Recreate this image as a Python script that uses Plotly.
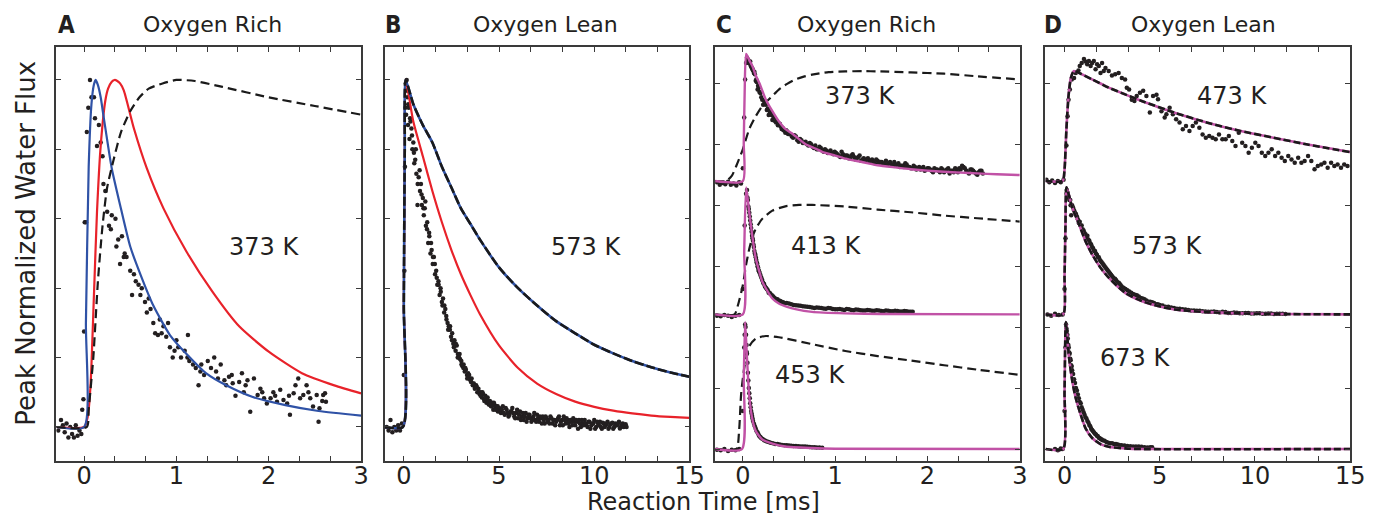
import plotly.graph_objects as go

W, H = 1378, 517

# ---------------- Panel A : Oxygen Rich, 373 K ----------------
a_data_t = [-0.28, -0.25, -0.23, -0.21, -0.19, -0.17, -0.15, -0.13, -0.11, -0.09, -0.07, -0.05, -0.03, -0.02, -0.007,
            0.0, 0.007, 0.02, 0.03, 0.046, 0.064, 0.08, 0.107, 0.118, 0.14, 0.16, 0.18, 0.2, 0.21, 0.23, 0.25, 0.27,
            0.29, 0.30, 0.34, 0.35, 0.37, 0.39, 0.41, 0.43, 0.44, 0.46, 0.5, 0.52, 0.54, 0.56, 0.59, 0.61, 0.625,
            0.66, 0.68, 0.70, 0.72, 0.75, 0.77, 0.80, 0.82, 0.84, 0.86, 0.89, 0.91, 0.93, 0.96, 0.98, 1.0, 1.02,
            1.05, 1.09, 1.12, 1.125, 1.14, 1.18, 1.21, 1.24, 1.26, 1.27, 1.30, 1.34, 1.375, 1.41, 1.43, 1.45, 1.48,
            1.52, 1.54, 1.57, 1.6, 1.61, 1.64, 1.68, 1.71, 1.73, 1.75, 1.77, 1.80, 1.84, 1.88, 1.91, 1.93, 1.95,
            1.98, 2.02, 2.05, 2.07, 2.09, 2.125, 2.16, 2.2, 2.22, 2.23, 2.27, 2.29, 2.32, 2.34, 2.375, 2.41, 2.43,
            2.45, 2.48, 2.52, 2.54, 2.55, 2.58, 2.59, 2.61, 2.62]
a_data_flux = [-0.01, 0.02, 0.005, -0.015, 0.01, -0.03, 0.0, -0.02, -0.03, 0.005, -0.025, -0.01, -0.02, 0.05, 0.08,
               0.275, 0.59, 0.59, 0.85, 0.92, 1.0, 0.95, 0.95, 0.89, 0.81, 0.87, 0.82, 0.78, 0.70, 0.68, 0.62, 0.58,
               0.57, 0.61, 0.60, 0.52, 0.54, 0.47, 0.55, 0.49, 0.50, 0.49, 0.45, 0.38, 0.44, 0.42, 0.41, 0.38, 0.40,
               0.36, 0.33, 0.37, 0.34, 0.30, 0.27, 0.265, 0.31, 0.27, 0.29, 0.26, 0.30, 0.23, 0.20, 0.22, 0.25, 0.23,
               0.20, 0.22, 0.20, 0.265, 0.19, 0.18, 0.17, 0.12, 0.16, 0.18, 0.15, 0.19, 0.17, 0.20, 0.16, 0.14, 0.18,
               0.135, 0.12, 0.145, 0.15, 0.126, 0.09, 0.13, 0.155, 0.10, 0.12, 0.135, 0.044, 0.14, 0.092, 0.11, 0.10, 0.083,
               0.068, 0.083, 0.10, 0.09, 0.073, 0.107, 0.078, 0.068, 0.09, 0.035, 0.097, 0.12, 0.14, 0.083, 0.092, 0.12, 0.10,
               0.083, 0.059, 0.092, 0.015, 0.054, 0.075, 0.092, 0.097, 0.073]
a_blue_t = [-0.3, 0.0, 0.02, 0.05, 0.08, 0.105, 0.125, 0.15, 0.18, 0.214, 0.30, 0.39, 0.5, 0.61, 0.75, 0.93, 1.11,
            1.32, 1.54, 1.82, 2.18, 2.54, 3.0]
a_blue_flux = [0, 0, 0.3, 0.75, 0.93, 0.985, 1.0, 0.985, 0.95, 0.89, 0.745, 0.64, 0.52, 0.44, 0.35, 0.265, 0.21,
               0.155, 0.12, 0.087, 0.063, 0.046, 0.033]
a_red_t = [-0.3, 0.0, 0.04, 0.07, 0.107, 0.14, 0.18, 0.23, 0.26, 0.30, 0.33, 0.36, 0.39, 0.43, 0.54, 0.68, 0.86,
           1.11, 1.39, 1.68, 2.0, 2.36, 2.71, 3.0]
a_red_flux = [0, 0, 0.03, 0.12, 0.38, 0.62, 0.81, 0.94, 0.975, 0.995, 1.0, 0.997, 0.99, 0.97, 0.86, 0.745, 0.63,
              0.505, 0.39, 0.29, 0.217, 0.155, 0.12, 0.097]
a_dash_t = [-0.3, 0.03, 0.05, 0.1, 0.15, 0.2, 0.25, 0.32, 0.4, 0.5, 0.6, 0.7, 0.85, 1.0, 1.2, 1.5, 2.0, 2.5, 3.0]
a_dash_flux = [0, 0, 0.05, 0.2, 0.42, 0.58, 0.69, 0.77, 0.85, 0.91, 0.95, 0.975, 0.99, 1.0, 0.997, 0.98, 0.95, 0.925, 0.9]

# ---------------- Panel B : Oxygen Lean, 573 K ----------------
b_data_t = [-0.9, -0.8, -0.7, -0.6, -0.5, -0.4, -0.3, -0.2, -0.1, 0.0, 0.03, 0.06, 0.08, 0.1, 0.12, 0.15, 0.18, 0.2,
            0.22, 0.26, 0.3, 0.35, 0.4, 0.45, 0.5, 0.55, 0.6, 0.66, 0.72, 0.78, 0.85, 0.9, 0.95, 1.0, 1.05, 1.1, 1.16,
            1.22, 1.28, 1.34, 1.4, 1.46, 1.52, 1.58, 1.64, 1.7, 1.76, 1.82, 1.88, 1.94, 2.0, 2.06, 2.12, 2.18, 2.24,
            2.3, 2.36, 2.42, 2.48, 2.54, 2.6, 2.66, 2.72, 2.78, 2.84, 2.9, 2.96, 3.02, 3.08, 3.14, 3.2, 3.26, 3.32,
            3.38, 3.44, 3.5, 3.56, 3.62, 3.68, 3.74, 3.8, 3.86, 3.92, 3.98, 4.04, 4.1, 4.16, 4.22, 4.28, 4.34, 4.4,
            4.46, 4.52, 4.58, 4.64, 4.7, 4.76, 4.82, 4.88, 4.94, 5.0, 5.1, 5.2, 5.3, 5.4, 5.5, 5.6, 5.7, 5.8, 5.9,
            6.0, 6.1, 6.2, 6.3, 6.4, 6.5, 6.6, 6.7, 6.8, 6.9, 7.0, 7.1, 7.2, 7.3, 7.4, 7.5, 7.6, 7.7, 7.8, 7.9, 8.0,
            8.1, 8.2, 8.3, 8.4, 8.5, 8.6, 8.7, 8.8, 8.9, 9.0, 9.1, 9.2, 9.3, 9.4, 9.5, 9.6, 9.7, 9.8, 9.9, 10.0, 10.1,
            10.2, 10.3, 10.4, 10.5, 10.6, 10.7, 10.8, 10.9, 11.0, 11.1, 11.2, 11.3, 11.4, 11.5, 11.6, 11.7]
b_data_flux = [0.0, -0.01, 0.02, -0.015, 0.0, -0.01, 0.005, -0.01, 0.01, 0.15, 0.45, 0.75, 0.92, 0.99, 0.9, 1.0, 0.95,
               0.97, 0.87, 0.92, 0.83, 0.88, 0.86, 0.80, 0.82, 0.76, 0.77, 0.73, 0.64, 0.72, 0.68, 0.70, 0.64, 0.66,
               0.61, 0.63, 0.58, 0.57, 0.53, 0.55, 0.50, 0.51, 0.47, 0.49, 0.44, 0.45, 0.41, 0.42, 0.38, 0.39, 0.36,
               0.37, 0.33, 0.34, 0.31, 0.30, 0.29, 0.28, 0.26, 0.27, 0.24, 0.25, 0.22, 0.235, 0.21, 0.20, 0.195, 0.19,
               0.175, 0.18, 0.16, 0.165, 0.15, 0.155, 0.14, 0.135, 0.14, 0.12, 0.125, 0.115, 0.12, 0.10, 0.11, 0.095,
               0.10, 0.085, 0.095, 0.08, 0.09, 0.07, 0.085, 0.065, 0.075, 0.06, 0.07, 0.05, 0.065, 0.055, 0.06, 0.045,
               0.055, 0.04, 0.06, 0.035, 0.05, 0.03, 0.045, 0.055, 0.03, 0.04, 0.025, 0.045, 0.03, 0.02, 0.04, 0.025,
               0.035, 0.015, 0.03, 0.02, 0.035, 0.015, 0.025, 0.03, 0.01, 0.025, 0.02, 0.03, 0.01, 0.02, 0.015, 0.025,
               0.005, 0.02, 0.03, 0.01, 0.02, 0.0, 0.015, 0.025, 0.005, 0.015, 0.02, 0.0, 0.01, 0.02, 0.005, 0.015,
               -0.005, 0.01, 0.02, 0.0, 0.01, 0.015, -0.005, 0.01, 0.005, 0.015, 0.0, 0.01, -0.005, 0.01, 0.005, 0.015,
               0.0, 0.01, 0.005, 0.0]
# second sweep of the same measurement (time, flux) pairs
b_data2 = [(0.13, 0.97), (0.23, 0.93), (0.33, 0.89), (0.43, 0.84), (0.53, 0.79), (0.63, 0.80), (0.73, 0.70),
           (0.83, 0.74), (0.93, 0.67), (1.03, 0.63), (1.13, 0.65), (1.23, 0.59), (1.33, 0.56), (1.43, 0.53),
           (1.53, 0.49), (1.63, 0.47), (1.73, 0.43), (1.83, 0.41), (1.93, 0.40), (2.03, 0.35), (2.13, 0.35),
           (2.23, 0.32), (2.33, 0.28), (2.43, 0.29), (2.53, 0.25), (2.63, 0.23), (2.73, 0.24), (2.83, 0.20),
           (2.93, 0.21), (3.03, 0.18), (3.13, 0.17), (3.23, 0.17), (3.33, 0.14), (3.43, 0.15), (3.53, 0.13),
           (3.63, 0.125), (3.73, 0.11), (3.83, 0.115), (3.93, 0.10), (4.03, 0.09), (4.13, 0.10), (4.23, 0.075),
           (4.33, 0.08), (4.43, 0.075), (4.53, 0.065), (4.63, 0.06), (4.73, 0.07), (4.83, 0.05), (4.93, 0.06),
           (5.05, 0.045), (5.15, 0.05), (5.25, 0.04), (5.35, 0.055), (5.45, 0.04), (5.55, 0.035), (5.65, 0.045),
           (5.75, 0.04), (5.85, 0.025), (5.95, 0.05), (6.05, 0.035), (6.15, 0.02), (6.25, 0.04), (6.35, 0.03),
           (6.45, 0.015), (6.55, 0.035), (6.65, 0.025), (6.75, 0.02), (6.85, 0.04), (6.95, 0.015), (7.05, 0.025),
           (7.15, 0.03), (7.25, 0.01), (7.35, 0.02), (7.45, 0.03), (7.55, 0.015), (7.65, 0.01), (7.75, 0.025),
           (7.85, 0.02), (7.95, 0.005), (8.05, 0.02), (8.15, 0.03), (8.25, 0.015), (8.35, 0.005), (8.45, 0.02),
           (8.55, 0.025), (8.65, 0.01), (8.75, 0.02), (8.85, 0.005), (8.95, 0.015), (9.05, 0.02), (9.15, -0.005),
           (9.25, 0.01), (9.35, 0.02), (9.45, 0.005), (9.55, 0.01), (9.65, 0.0), (9.75, 0.015), (9.85, 0.005),
           (9.95, 0.01), (10.05, -0.005), (10.15, 0.015), (10.25, 0.005), (10.35, 0.0), (10.45, 0.012),
           (10.55, 0.0), (10.65, 0.01), (10.75, -0.005), (10.85, 0.008), (10.95, 0.012), (11.05, 0.0),
           (11.15, 0.005), (11.25, 0.01), (11.35, -0.004), (11.45, 0.006), (11.55, 0.0), (11.65, 0.008)]
b_blue_t = [-1, -0.05, 0.0, 0.05, 0.1, 0.5, 1.0, 1.5, 2.0, 2.5, 3.0, 3.5, 4.0, 5.0, 6.0, 7.0, 8.0, 9.0, 10.0, 11.0, 12.0, 13.0, 14.0, 15.0]
b_blue_flux = [0, 0, 0.35, 0.8, 1.0, 0.93, 0.87, 0.82, 0.75, 0.69, 0.63, 0.585, 0.54, 0.46, 0.40, 0.35, 0.305, 0.27, 0.237, 0.212, 0.19, 0.172, 0.157, 0.145]
b_red_t = [-1, -0.05, 0.0, 0.05, 0.1, 0.5, 1.0, 1.5, 2.0, 2.5, 3.0, 3.5, 4.0, 5.0, 6.0, 7.0, 8.0, 9.0, 10.0, 11.0, 12.0, 13.0, 14.0, 15.0]
b_red_flux = [0, 0, 0.35, 0.8, 1.0, 0.88, 0.78, 0.68, 0.59, 0.51, 0.44, 0.38, 0.325, 0.235, 0.17, 0.125, 0.095, 0.073, 0.058, 0.047, 0.039, 0.033, 0.029, 0.026]

# ---------------- Panel C : Oxygen Rich, stacked ----------------
c373_data_t = [-0.28, -0.25, -0.22, -0.19, -0.16, -0.13, -0.1, -0.07, -0.04, -0.02, 0.0, 0.015, 0.025, 0.035, 0.05,
               0.06, 0.07, 0.08, 0.09, 0.1, 0.11, 0.12, 0.13, 0.14, 0.15, 0.16, 0.17, 0.18, 0.2, 0.22, 0.24, 0.26,
               0.28, 0.3, 0.32, 0.34, 0.36, 0.38, 0.4, 0.42, 0.44, 0.46, 0.48, 0.5, 0.53, 0.56, 0.59, 0.62, 0.65,
               0.68, 0.71, 0.74, 0.77, 0.8, 0.83, 0.86, 0.89, 0.92, 0.95, 0.98, 1.01, 1.04, 1.07, 1.1, 1.13, 1.16,
               1.19, 1.22, 1.25, 1.28, 1.31, 1.34, 1.37, 1.4, 1.43, 1.46, 1.49, 1.52, 1.55, 1.58, 1.61, 1.64, 1.67,
               1.7, 1.73, 1.76, 1.79, 1.82, 1.85, 1.88, 1.91, 1.94, 1.97, 2.0, 2.03, 2.06, 2.09, 2.12, 2.15, 2.18,
               2.21, 2.24, 2.27, 2.3, 2.33, 2.36, 2.39, 2.42, 2.45, 2.48, 2.51, 2.54, 2.57, 2.6]
c373_data_flux = [-0.01, -0.03, -0.015, -0.025, -0.005, -0.03, -0.02, -0.035, -0.01, -0.02, 0.1, 0.5, 0.8, 0.93, 0.96,
                  0.95, 0.93, 0.94, 0.9, 0.89, 0.87, 0.85, 0.84, 0.79, 0.78, 0.72, 0.73, 0.70, 0.66, 0.60, 0.62, 0.56,
                  0.52, 0.54, 0.48, 0.50, 0.46, 0.44, 0.45, 0.41, 0.40, 0.38, 0.39, 0.37, 0.35, 0.36, 0.32, 0.33, 0.30,
                  0.31, 0.28, 0.29, 0.26, 0.25, 0.27, 0.24, 0.25, 0.22, 0.24, 0.21, 0.22, 0.20, 0.23, 0.19, 0.20, 0.18,
                  0.21, 0.17, 0.19, 0.16, 0.18, 0.17, 0.15, 0.17, 0.14, 0.16, 0.15, 0.13, 0.16, 0.14, 0.12, 0.15, 0.13,
                  0.11, 0.12, 0.14, 0.11, 0.10, 0.12, 0.09, 0.11, 0.10, 0.08, 0.10, 0.09, 0.07, 0.09, 0.08, 0.10, 0.07,
                  0.09, 0.06, 0.08, 0.10, 0.07, 0.09, 0.11, 0.08, 0.06, 0.09, 0.07, 0.05, 0.08, 0.06]
c373_data2 = [(0.045, 0.97), (0.065, 0.93), (0.085, 0.91), (0.105, 0.88), (0.125, 0.86), (0.145, 0.80), (0.165, 0.75),
              (0.19, 0.69), (0.21, 0.64), (0.23, 0.63), (0.25, 0.60), (0.27, 0.57), (0.29, 0.55), (0.31, 0.52),
              (0.33, 0.51), (0.35, 0.47), (0.37, 0.47), (0.39, 0.45), (0.41, 0.43), (0.43, 0.42), (0.45, 0.40),
              (0.47, 0.40), (0.49, 0.37), (0.515, 0.37), (0.545, 0.34), (0.575, 0.35), (0.605, 0.31), (0.635, 0.32),
              (0.665, 0.30), (0.695, 0.29), (0.725, 0.30), (0.755, 0.27), (0.785, 0.28), (0.815, 0.25), (0.845, 0.26),
              (0.875, 0.23), (0.905, 0.24), (0.935, 0.23), (0.965, 0.22), (0.995, 0.23), (1.025, 0.21), (1.055, 0.19),
              (1.085, 0.21), (1.115, 0.20), (1.145, 0.18), (1.175, 0.20), (1.205, 0.19), (1.235, 0.18), (1.265, 0.20),
              (1.295, 0.17), (1.325, 0.16), (1.355, 0.18), (1.385, 0.16), (1.415, 0.15), (1.445, 0.17), (1.475, 0.14),
              (1.505, 0.15), (1.535, 0.14), (1.565, 0.13), (1.595, 0.15), (1.625, 0.13), (1.655, 0.12), (1.685, 0.14),
              (1.715, 0.12), (1.745, 0.11), (1.775, 0.13), (1.805, 0.11), (1.835, 0.10), (1.865, 0.11), (1.895, 0.10),
              (1.925, 0.09), (1.955, 0.11), (1.985, 0.09), (2.015, 0.10), (2.045, 0.08), (2.075, 0.10), (2.105, 0.09),
              (2.135, 0.07), (2.165, 0.09), (2.195, 0.08), (2.225, 0.10), (2.255, 0.08), (2.285, 0.07), (2.315, 0.09),
              (2.345, 0.10), (2.375, 0.12), (2.405, 0.10), (2.435, 0.07), (2.465, 0.09), (2.495, 0.08), (2.525, 0.06),
              (2.555, 0.07), (2.585, 0.08)]
c373_fit_t = [-0.3, 0.0, 0.01, 0.02, 0.036, 0.07, 0.107, 0.14, 0.18, 0.25, 0.32, 0.39, 0.46, 0.54, 0.61, 0.68, 0.77,
              0.86, 1.0, 1.11, 1.3, 1.46, 1.65, 1.82, 2.0, 2.18, 2.36, 2.54, 2.75, 3.0]
c373_fit_flux = [0, 0, 0.3, 0.7, 1.0, 0.95, 0.90, 0.83, 0.77, 0.64, 0.55, 0.47, 0.41, 0.37, 0.33, 0.29, 0.26, 0.23,
                 0.20, 0.176, 0.148, 0.124, 0.107, 0.093, 0.082, 0.073, 0.066, 0.06, 0.053, 0.047]
c373_dash_t = [-0.3, -0.18, -0.12, -0.07, 0.0, 0.07, 0.14, 0.21, 0.30, 0.39, 0.48, 0.57, 0.66, 0.75, 0.93, 1.11, 1.3,
               1.46, 1.82, 2.18, 2.54, 3.0]
c373_dash_flux = [0, 0, 0.04, 0.12, 0.25, 0.41, 0.51, 0.59, 0.655, 0.72, 0.765, 0.80, 0.822, 0.837, 0.857, 0.863,
                  0.865, 0.863, 0.855, 0.845, 0.824, 0.80]

c413_data_t = [-0.28, -0.24, -0.2, -0.16, -0.12, -0.08, -0.04, 0.0, 0.02, 0.035, 0.05, 0.06, 0.07, 0.08, 0.09, 0.1,
               0.11, 0.12, 0.13, 0.14, 0.15, 0.16, 0.17, 0.18, 0.2, 0.22, 0.24, 0.26, 0.28, 0.3, 0.33, 0.36, 0.39,
               0.42, 0.45, 0.5, 0.55, 0.6, 0.65, 0.7, 0.75, 0.8, 0.85, 0.9, 0.95, 1.0, 1.05, 1.1, 1.15, 1.2, 1.25,
               1.3, 1.35, 1.4, 1.45, 1.5, 1.55, 1.6, 1.65, 1.7, 1.75, 1.8, 1.84]
c413_data_flux = [-0.01, -0.015, -0.005, -0.01, -0.02, -0.01, -0.005, 0.2, 0.7, 0.95, 0.92, 0.85, 0.8, 0.74, 0.68,
                  0.62, 0.58, 0.53, 0.48, 0.45, 0.41, 0.38, 0.35, 0.33, 0.29, 0.25, 0.22, 0.2, 0.17, 0.16, 0.14, 0.12,
                  0.11, 0.1, 0.09, 0.085, 0.075, 0.07, 0.065, 0.06, 0.055, 0.055, 0.05, 0.045, 0.048, 0.04, 0.042,
                  0.035, 0.04, 0.033, 0.036, 0.03, 0.034, 0.028, 0.032, 0.027, 0.03, 0.025, 0.028, 0.022, 0.026,
                  0.02, 0.02]
c413_data2 = [(0.045, 0.98), (0.055, 0.90), (0.065, 0.83), (0.075, 0.77), (0.085, 0.71), (0.095, 0.65), (0.105, 0.60),
              (0.115, 0.55), (0.125, 0.50), (0.135, 0.47), (0.145, 0.43), (0.155, 0.40), (0.165, 0.37), (0.175, 0.34),
              (0.19, 0.31), (0.21, 0.27), (0.23, 0.24), (0.25, 0.21), (0.27, 0.19), (0.29, 0.17), (0.315, 0.15),
              (0.345, 0.13), (0.375, 0.12), (0.405, 0.105), (0.435, 0.095), (0.475, 0.09), (0.525, 0.08),
              (0.575, 0.072), (0.625, 0.068), (0.675, 0.062), (0.725, 0.058), (0.775, 0.05), (0.825, 0.052),
              (0.875, 0.046), (0.925, 0.05), (0.975, 0.042), (1.025, 0.04), (1.075, 0.038), (1.125, 0.042),
              (1.175, 0.035), (1.225, 0.038), (1.275, 0.032), (1.325, 0.03), (1.375, 0.033), (1.425, 0.028),
              (1.475, 0.03), (1.525, 0.025), (1.575, 0.028), (1.625, 0.024), (1.675, 0.026), (1.725, 0.022),
              (1.775, 0.024), (1.82, 0.02)]
c413_fit_t = [-0.3, 0.0, 0.015, 0.036, 0.07, 0.107, 0.14, 0.18, 0.21, 0.25, 0.32, 0.39, 0.48, 0.57, 0.75, 1.11, 1.5, 3.0]
c413_fit_flux = [0, 0, 0.5, 1.0, 0.80, 0.595, 0.44, 0.334, 0.26, 0.204, 0.125, 0.086, 0.06, 0.042, 0.02, 0.008, 0.003, 0]
c413_dash_t = [-0.3, -0.09, -0.05, 0.0, 0.035, 0.07, 0.1, 0.14, 0.21, 0.32, 0.46, 0.61, 0.75, 1.11, 1.46, 1.82, 2.18, 2.54, 3.0]
c413_dash_flux = [0, 0, 0.08, 0.23, 0.39, 0.517, 0.6, 0.674, 0.752, 0.817, 0.851, 0.862, 0.862, 0.849, 0.825, 0.804,
                  0.778, 0.757, 0.731]

c453_data_t = [-0.28, -0.24, -0.2, -0.16, -0.12, -0.08, -0.04, 0.0, 0.015, 0.025, 0.035, 0.045, 0.055, 0.065, 0.075,
               0.085, 0.095, 0.105, 0.12, 0.14, 0.16, 0.18, 0.2, 0.23, 0.26, 0.3, 0.35, 0.4, 0.45, 0.5, 0.55, 0.6,
               0.65, 0.7, 0.75, 0.8, 0.86]
c453_data_flux = [-0.005, -0.01, 0.0, -0.015, -0.005, -0.01, 0.0, 0.3, 0.8, 0.98, 0.9, 0.75, 0.6, 0.48, 0.4, 0.33,
                  0.28, 0.24, 0.2, 0.16, 0.13, 0.1, 0.085, 0.07, 0.06, 0.05, 0.04, 0.035, 0.03, 0.028, 0.025, 0.022,
                  0.02, 0.018, 0.015, 0.012, 0.01]
c453_data2 = [(0.02, 0.90), (0.03, 0.96), (0.04, 0.82), (0.05, 0.68), (0.06, 0.54), (0.07, 0.44), (0.08, 0.36),
              (0.09, 0.30), (0.1, 0.26), (0.11, 0.22), (0.13, 0.18), (0.15, 0.14), (0.17, 0.115), (0.19, 0.095),
              (0.215, 0.08), (0.245, 0.065), (0.28, 0.055), (0.325, 0.045), (0.375, 0.04), (0.425, 0.032),
              (0.475, 0.03), (0.525, 0.026), (0.575, 0.024), (0.625, 0.02), (0.675, 0.02), (0.725, 0.016),
              (0.775, 0.014), (0.83, 0.012)]
c453_fit_t = [-0.3, -0.01, 0.01, 0.025, 0.046, 0.07, 0.107, 0.14, 0.21, 0.32, 0.46, 0.75, 1.0, 3.0]
c453_fit_flux = [0, 0, 0.55, 1.0, 0.705, 0.41, 0.22, 0.142, 0.075, 0.043, 0.02, 0.008, 0.003, 0]
c453_dash_t = [-0.3, -0.07, -0.04, -0.018, 0.018, 0.07, 0.14, 0.25, 0.39, 0.75, 1.11, 1.46, 1.82, 2.18, 2.54, 3.0]
c453_dash_flux = [0, 0, 0.15, 0.437, 0.65, 0.81, 0.87, 0.89, 0.88, 0.826, 0.772, 0.732, 0.697, 0.66, 0.625, 0.584]

# ---------------- Panel D : Oxygen Lean, stacked ----------------
d473_data_t = [-0.95, -0.8, -0.65, -0.5, -0.35, -0.2, -0.05, 0.1, 0.16, 0.21, 0.28, 0.38, 0.5, 0.59, 0.73, 0.8, 0.9,
               1.02, 1.1, 1.19, 1.28, 1.37, 1.45, 1.54, 1.63, 1.71, 1.8, 1.89, 1.97, 2.06, 2.15, 2.32, 2.49, 2.66,
               2.84, 3.01, 3.18, 3.27, 3.39, 3.53, 3.67, 3.79, 3.96, 4.13, 4.3, 4.48, 4.65, 4.83, 4.91, 5.09, 5.26,
               5.35, 5.52, 5.69, 5.86, 6.04, 6.21, 6.38, 6.56, 6.73, 6.9, 7.08, 7.25, 7.42, 7.6, 7.77, 7.94, 8.11,
               8.29, 8.46, 8.63, 8.81, 8.98, 9.15, 9.33, 9.5, 9.67, 9.84, 10.02, 10.19, 10.36, 10.54, 10.71, 10.88,
               11.06, 11.23, 11.4, 11.57, 11.75, 11.92, 12.09, 12.27, 12.44, 12.61, 12.79, 12.96, 13.13, 13.3, 13.48,
               13.65, 13.82, 14.0, 14.17, 14.34, 14.52, 14.69, 14.86]
d473_data_flux = [0.01, -0.01, 0.005, -0.015, 0.0, -0.01, 0.01, 0.28, 0.51, 0.64, 0.72, 0.80, 0.81, 0.85, 0.87, 0.905,
                  0.93, 0.96, 0.94, 0.92, 0.945, 0.905, 0.93, 0.945, 0.88, 0.92, 0.905, 0.85, 0.93, 0.866, 0.89,
                  0.866, 0.83, 0.84, 0.85, 0.81, 0.80, 0.735, 0.72, 0.64, 0.63, 0.67, 0.695, 0.71, 0.67, 0.54, 0.67,
                  0.68, 0.643, 0.55, 0.50, 0.525, 0.577, 0.525, 0.486, 0.46, 0.407, 0.433, 0.394, 0.433, 0.46, 0.42,
                  0.367, 0.34, 0.354, 0.34, 0.328, 0.367, 0.328, 0.328, 0.354, 0.315, 0.276, 0.38, 0.302, 0.276,
                  0.223, 0.262, 0.302, 0.276, 0.223, 0.197, 0.223, 0.25, 0.197, 0.223, 0.184, 0.157, 0.197, 0.17,
                  0.144, 0.184, 0.144, 0.157, 0.197, 0.157, 0.092, 0.118, 0.131, 0.144, 0.105, 0.144, 0.118, 0.131,
                  0.105, 0.131, 0.118]
d473_fit_t = [-1, -0.1, 0.0, 0.1, 0.21, 0.33, 0.45, 0.5, 1.45, 2.32, 3.18, 4.05, 5.78, 7.51, 9.24, 10.97, 12.7, 15]
d473_fit_flux = [0, 0, 0.09, 0.41, 0.67, 0.81, 0.858, 0.866, 0.80, 0.735, 0.682, 0.63, 0.538, 0.459, 0.394, 0.341, 0.289, 0.228]

d573_data_t = [-0.9, -0.7, -0.5, -0.3, -0.1, 0.0, 0.05, 0.1, 0.15, 0.2, 0.3, 0.35, 0.4, 0.5, 0.6, 0.7, 0.8, 0.9, 1.0,
               1.1, 1.2, 1.3, 1.4, 1.5, 1.6, 1.7, 1.8, 1.9, 2.0, 2.1, 2.2, 2.3, 2.4, 2.5, 2.6, 2.7, 2.8, 2.9, 3.0, 3.2,
               3.4, 3.6, 3.8, 4.0, 4.2, 4.4, 4.6, 4.8, 5.0, 5.3, 5.6, 5.9, 6.2, 6.5, 6.8, 7.1, 7.4, 7.7, 8.0, 8.3,
               8.6, 8.9, 9.2, 9.5, 9.8, 10.1, 10.4, 10.7, 11.0, 11.3, 11.6]
d573_data_flux = [0.0, -0.01, 0.005, -0.005, 0.0, 0.2, 0.6, 0.95, 0.96, 0.93, 0.9, 0.78, 0.86, 0.82, 0.79, 0.75, 0.73,
                  0.7, 0.66, 0.63, 0.62, 0.58, 0.55, 0.52, 0.50, 0.47, 0.45, 0.42, 0.40, 0.38, 0.36, 0.34, 0.32, 0.30,
                  0.28, 0.27, 0.25, 0.24, 0.22, 0.20, 0.18, 0.16, 0.15, 0.13, 0.12, 0.10, 0.095, 0.08, 0.075, 0.06,
                  0.055, 0.045, 0.04, 0.035, 0.03, 0.028, 0.022, 0.02, 0.018, 0.02, 0.012, 0.015, 0.01, 0.012, 0.008,
                  0.01, 0.005, 0.008, 0.004, 0.006, 0.003]
d573_data2 = [(0.12, 0.98), (0.18, 0.92), (0.25, 0.90), (0.32, 0.86), (0.45, 0.84), (0.55, 0.80), (0.65, 0.77),
              (0.75, 0.72), (0.85, 0.70), (0.95, 0.67), (1.05, 0.64), (1.15, 0.60), (1.25, 0.59), (1.35, 0.56),
              (1.45, 0.53), (1.55, 0.50), (1.65, 0.48), (1.75, 0.45), (1.85, 0.43), (1.95, 0.41), (2.05, 0.39),
              (2.15, 0.37), (2.25, 0.35), (2.35, 0.33), (2.45, 0.31), (2.55, 0.29), (2.65, 0.28), (2.75, 0.26),
              (2.85, 0.25), (2.95, 0.23), (3.1, 0.21), (3.3, 0.19), (3.5, 0.17), (3.7, 0.155), (3.9, 0.14),
              (4.1, 0.125), (4.3, 0.11), (4.5, 0.10), (4.7, 0.09), (4.9, 0.08), (5.15, 0.07), (5.45, 0.06),
              (5.75, 0.05), (6.05, 0.045), (6.35, 0.038), (6.65, 0.03), (6.95, 0.028), (7.25, 0.025), (7.55, 0.02),
              (7.85, 0.022), (8.15, 0.015), (8.45, 0.018), (8.75, 0.012), (9.05, 0.014), (9.35, 0.01), (9.65, 0.012),
              (9.95, 0.008), (10.25, 0.01), (10.55, 0.006), (10.85, 0.008), (11.15, 0.005), (11.45, 0.006)]
d573_fit_t = [-1, -0.07, 0.0, 0.05, 0.1, 0.41, 0.76, 1.1, 1.45, 1.89, 2.32, 3.18, 4.05, 4.9, 5.78, 7.5, 9.24, 11, 15]
d573_fit_flux = [0, 0, 0.3, 0.7, 1.0, 0.84, 0.71, 0.577, 0.472, 0.367, 0.289, 0.17, 0.105, 0.066, 0.039, 0.018, 0.008, 0.003, 0]

d673_data_t = [-0.5, -0.35, -0.2, -0.1, 0.0, 0.05, 0.08, 0.15, 0.2, 0.25, 0.3, 0.35, 0.4, 0.5, 0.6, 0.7, 0.8, 0.9, 1.0,
               1.1, 1.2, 1.3, 1.4, 1.5, 1.6, 1.7, 1.8, 1.9, 2.0, 2.2, 2.4, 2.6, 2.8, 3.0, 3.3, 3.6, 3.9, 4.2, 4.5]
d673_data_flux = [0.0, -0.01, 0.005, 0.0, 0.3, 0.8, 0.98, 0.9, 0.82, 0.76, 0.71, 0.66, 0.62, 0.55, 0.48, 0.43, 0.37,
                  0.33, 0.29, 0.25, 0.22, 0.19, 0.16, 0.14, 0.12, 0.105, 0.09, 0.08, 0.07, 0.055, 0.045, 0.04, 0.035,
                  0.03, 0.025, 0.02, 0.02, 0.015, 0.015]
d673_data2 = [(0.1, 0.95), (0.12, 0.93), (0.17, 0.87), (0.22, 0.80), (0.27, 0.75), (0.32, 0.70), (0.37, 0.65),
              (0.45, 0.59), (0.55, 0.52), (0.65, 0.46), (0.75, 0.40), (0.85, 0.36), (0.95, 0.31), (1.05, 0.27),
              (1.15, 0.24), (1.25, 0.21), (1.35, 0.18), (1.45, 0.15), (1.55, 0.13), (1.65, 0.115), (1.75, 0.10),
              (1.85, 0.085), (1.95, 0.075), (2.1, 0.065), (2.3, 0.05), (2.5, 0.045), (2.7, 0.04), (2.9, 0.03),
              (3.15, 0.028), (3.45, 0.022), (3.75, 0.02), (4.05, 0.018), (4.35, 0.012), (4.6, 0.015)]
d673_fit_t = [-1, -0.07, 0.0, 0.07, 0.24, 0.41, 0.59, 0.85, 1.1, 1.45, 1.89, 2.32, 3.2, 4.0, 15]
d673_fit_flux = [0, 0, 0.45, 1.0, 0.716, 0.533, 0.40, 0.27, 0.165, 0.087, 0.039, 0.018, 0.005, 0, 0]

# stacking offsets for panels C and D (normalized units)
stack_offsets = [2.11, 1.06, 0.0]
labels_C = ["373 K", "413 K", "453 K"]
labels_D = ["473 K", "573 K", "673 K"]

# ---------------- styling ----------------
INK = "#231f20"
AX = "#3a3a3a"
BLUE = "#2f52a6"
RED = "#e8222a"
MAG = "#c152a6"
FONT = "DejaVu Sans, Verdana, sans-serif"


def px(x):
    return x / W


def py(y):
    return 1 - y / H


boxes = [(57, 365), (389, 697), (723, 1031), (1057, 1365)]
top_px, bot_px = 47, 461

fig = go.Figure()


def dots(x, y, k):
    fig.add_trace(go.Scatter(x=list(x), y=list(y), mode="markers", xaxis=f"x{k}", yaxis=f"y{k}",
                             marker=dict(size=4.5, color=INK), showlegend=False, hoverinfo="skip"))


def pair_dots(pairs, k, off=0.0):
    dots([p[0] for p in pairs], [p[1] + off for p in pairs], k)


def line(x, y, k, color, width=2.2, dash=None):
    fig.add_trace(go.Scatter(x=x, y=y, mode="lines", xaxis=f"x{k}", yaxis=f"y{k}",
                             line=dict(color=color, width=width, dash=dash, shape="spline", smoothing=0.6),
                             showlegend=False, hoverinfo="skip"))


def shift(vals, off):
    return [v + off for v in vals]


# Panel A
dots(a_data_t, a_data_flux, 1)
line(a_red_t, a_red_flux, 1, RED)
line(a_blue_t, a_blue_flux, 1, BLUE)
line(a_dash_t, a_dash_flux, 1, "#1a1a1a", dash="9px,5px")

# Panel B
dots(b_data_t, b_data_flux, 2)
pair_dots(b_data2, 2)
line(b_red_t, b_red_flux, 2, RED)
line(b_blue_t, b_blue_flux, 2, BLUE, width=2.6)
line(b_blue_t, b_blue_flux, 2, "#1a1a1a", width=2.6, dash="9px,3px")

# Panel C
c_sets = [(c373_data_t, c373_data_flux, c373_data2, c373_fit_t, c373_fit_flux, c373_dash_t, c373_dash_flux),
          (c413_data_t, c413_data_flux, c413_data2, c413_fit_t, c413_fit_flux, c413_dash_t, c413_dash_flux),
          (c453_data_t, c453_data_flux, c453_data2, c453_fit_t, c453_fit_flux, c453_dash_t, c453_dash_flux)]
for (dt, dv, d2, ft, fv, st, sv), off in zip(c_sets, stack_offsets):
    line(st, shift(sv, off), 3, "#1a1a1a", dash="9px,5px")
    dots(dt, shift(dv, off), 3)
    pair_dots(d2, 3, off)
    line(ft, shift(fv, off), 3, MAG, width=2.4)

# Panel D
d_sets = [(d473_data_t, d473_data_flux, [], d473_fit_t, d473_fit_flux),
          (d573_data_t, d573_data_flux, d573_data2, d573_fit_t, d573_fit_flux),
          (d673_data_t, d673_data_flux, d673_data2, d673_fit_t, d673_fit_flux)]
for (dt, dv, d2, ft, fv), off in zip(d_sets, stack_offsets):
    dots(dt, shift(dv, off), 4)
    if d2:
        pair_dots(d2, 4, off)
    line(ft, shift(fv, off), 4, MAG, width=2.6)
    line(ft, shift(fv, off), 4, "#1a1a1a", width=2.6, dash="7px,3px")

# axes
x_ranges = [(-0.3, 3), (-1, 15), (-0.3, 3), (-1, 15)]
x_dticks = [1, 5, 1, 5]
y_ranges = [(-0.098, 1.095), (-0.098, 1.095), (-0.094, 3.165), (-0.094, 3.165)]
y_dticks = [0.2, 0.2, 0.48, 0.48]

layout = dict(width=W, height=H, margin=dict(l=0, r=0, t=0, b=0),
              paper_bgcolor="white", plot_bgcolor="white",
              font=dict(family=FONT, color=INK, size=24))
for i in range(4):
    k = "" if i == 0 else str(i + 1)
    l, r = boxes[i]
    layout["xaxis" + k] = dict(domain=[px(l), px(r)], range=list(x_ranges[i]), anchor="y" + k,
                               showline=True, linecolor=AX, linewidth=1.5, mirror="ticks",
                               ticks="inside", ticklen=5, tickwidth=1.2, tickcolor=AX,
                               tick0=0, dtick=x_dticks[i], showgrid=False, zeroline=False,
                               ticklabelstandoff=-8,
                               tickfont=dict(size=24, color=INK, family=FONT),
                               minor=dict(tick0=0, dtick=x_dticks[i] / 3, ticks="inside", ticklen=5,
                                          tickwidth=1.2, tickcolor=AX, showgrid=False))
    layout["yaxis" + k] = dict(domain=[py(bot_px), py(top_px)], range=list(y_ranges[i]), anchor="x" + k,
                               showline=True, linecolor=AX, linewidth=1.5, mirror="ticks",
                               ticks="inside", ticklen=5, tickwidth=1.2, tickcolor=AX,
                               tick0=0, dtick=y_dticks[i], showticklabels=False,
                               showgrid=False, zeroline=False)
fig.update_layout(**layout)

ann = []
letters = ["A", "B", "C", "D"]
letter_x = [57, 387, 722, 1053]
titles = ["Oxygen Rich", "Oxygen Lean", "Oxygen Rich", "Oxygen Lean"]
title_x = [215, 551, 876, 1217]
for L, lx, T, tx in zip(letters, letter_x, titles, title_x):
    ann.append(dict(x=px(lx), y=py(25), xref="paper", yref="paper", text=f"<b>{L}</b>", showarrow=False,
                    xanchor="left", yanchor="middle",
                    font=dict(family="Liberation Sans Narrow, DejaVu Sans Condensed, sans-serif", size=24, color=INK)))
    ann.append(dict(x=px(tx), y=py(25), xref="paper", yref="paper", text=T, showarrow=False,
                    xanchor="center", yanchor="middle", font=dict(family=FONT, size=22, color=INK)))

# temperature labels (data coordinates)
ann.append(dict(x=1.95, y=0.52, xref="x", yref="y", text="373 K", showarrow=False, font=dict(size=24, color=INK)))
ann.append(dict(x=9.55, y=0.52, xref="x2", yref="y2", text="573 K", showarrow=False, font=dict(size=24, color=INK)))
for lab, xx, yy in zip(labels_C, [1.27, 0.9, 0.73], [2.78, 1.6, 0.58]):
    ann.append(dict(x=xx, y=yy, xref="x3", yref="y3", text=lab, showarrow=False, font=dict(size=24, color=INK)))
for lab, xx, yy in zip(labels_D, [8.8, 5.4, 3.7], [2.78, 1.6, 0.72]):
    ann.append(dict(x=xx, y=yy, xref="x4", yref="y4", text=lab, showarrow=False, font=dict(size=24, color=INK)))

# axis titles
ann.append(dict(x=px(711), y=py(502), xref="paper", yref="paper", text="Reaction Time [ms]", showarrow=False,
                xanchor="center", yanchor="middle", font=dict(size=24, color=INK)))
ann.append(dict(x=px(26), y=py(243), xref="paper", yref="paper", text="Peak Normalized Water Flux", showarrow=False,
                textangle=-90, xanchor="center", yanchor="middle", font=dict(size=26, color=INK)))
fig.update_layout(annotations=ann)

fig.write_html("out.html")
